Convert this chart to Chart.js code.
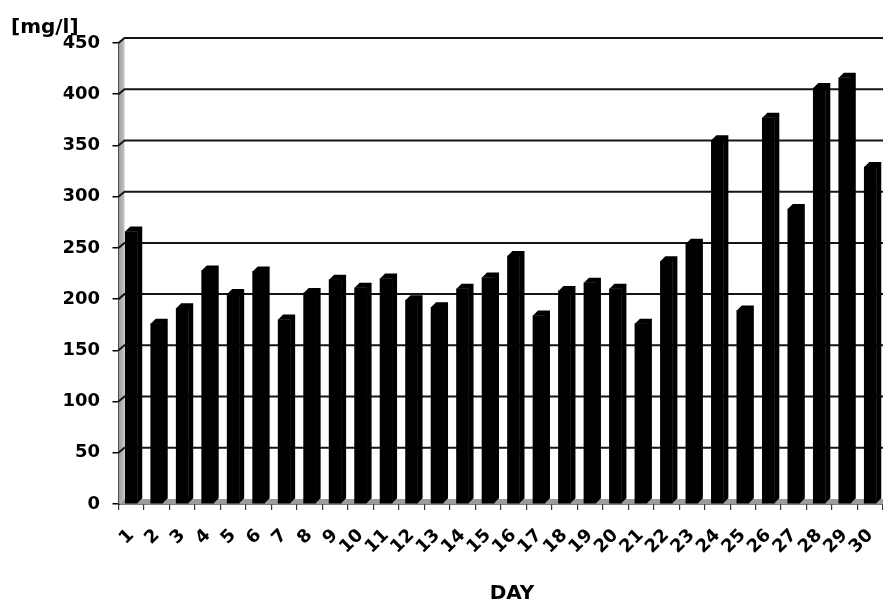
<!DOCTYPE html>
<html>
<head>
<meta charset="utf-8">
<script src="https://cdn.jsdelivr.net/npm/chart.js@4/dist/chart.umd.min.js"></script>
<style>
  html, body { margin: 0; padding: 0; background: #fff; overflow: hidden; }
  canvas { display: block; }
</style>
</head>
<body>
<canvas id="c" width="883" height="603"></canvas>
<script>
const days = ['1','2','3','4','5','6','7','8','9','10','11','12','13','14','15','16','17','18','19','20','21','22','23','24','25','26','27','28','29','30'];
const concentration = [266, 176, 191, 228, 205, 227, 180, 206, 219, 211, 220, 199, 192, 210, 221, 242, 184, 208, 216, 210, 176, 237, 254, 355, 189, 377, 288, 406, 416, 329];
const yUnit = '[mg/l]';
const xTitle = 'DAY';

const FONT = '"DejaVu Sans", "Liberation Sans", Arial, sans-serif';

const depthPlugin = {
  id: 'depth3d',
  beforeDatasetsDraw(chart) {
    const ctx = chart.ctx, a = chart.chartArea, ys = chart.scales.y;
    const wx = 6, wy = 5;
    ctx.save();
    // left wall
    const g = ctx.createLinearGradient(a.left, 0, a.left + wx, 0);
    g.addColorStop(0, '#9a9a9a');
    g.addColorStop(1, '#c4c4c4');
    ctx.fillStyle = g;
    ctx.beginPath();
    ctx.moveTo(a.left, a.top);
    ctx.lineTo(a.left + wx, a.top - wy);
    ctx.lineTo(a.left + wx, a.bottom - wy);
    ctx.lineTo(a.left, a.bottom);
    ctx.closePath();
    ctx.fill();
    // floor
    ctx.fillStyle = '#9c9c9c';
    ctx.beginPath();
    ctx.moveTo(a.left, a.bottom);
    ctx.lineTo(a.left + wx, a.bottom - wy);
    ctx.lineTo(a.right, a.bottom - wy);
    ctx.lineTo(a.right, a.bottom);
    ctx.closePath();
    ctx.fill();
    // back-wall gridlines
    ctx.strokeStyle = '#151515';
    ctx.lineWidth = 2;
    ys.ticks.forEach(t => {
      if (t.value === 0) return;
      const py = ys.getPixelForValue(t.value);
      ctx.beginPath();
      ctx.moveTo(a.left, py);
      ctx.lineTo(a.left + wx, py - wy);
      ctx.lineTo(a.right, py - wy);
      ctx.stroke();
    });
    // bar depth (top + side faces)
    const dx = 5, dy = 5;
    ctx.fillStyle = '#000';
    chart.getDatasetMeta(0).data.forEach(bar => {
      const p = bar.getProps(['x', 'y', 'base', 'width'], true);
      const xl = p.x - p.width / 2, xr = p.x + p.width / 2;
      ctx.beginPath();
      ctx.moveTo(xl, p.y);
      ctx.lineTo(xl + dx, p.y - dy);
      ctx.lineTo(xr + dx, p.y - dy);
      ctx.lineTo(xr + dx, p.base - dy);
      ctx.lineTo(xr, p.base);
      ctx.lineTo(xr, p.y);
      ctx.closePath();
      ctx.fill();
    });
    ctx.restore();
  },
  afterDraw(chart) {
    const ctx = chart.ctx;
    ctx.save();
    ctx.fillStyle = '#000';
    ctx.font = 'bold 20px ' + FONT;
    ctx.textAlign = 'left';
    ctx.textBaseline = 'alphabetic';
    ctx.fillText(yUnit, 11, 33);
    ctx.textAlign = 'center';
    ctx.fillText(xTitle, 512, 599);
    ctx.restore();
  }
};

new Chart(document.getElementById('c'), {
  type: 'bar',
  data: {
    labels: days,
    datasets: [{
      data: concentration,
      backgroundColor: '#000',
      borderWidth: 0,
      barThickness: 12
    }]
  },
  options: {
    responsive: false,
    animation: false,
    events: [],
    layout: { padding: { left: 63.5, right: -3, top: 43, bottom: 0 } },
    plugins: { legend: { display: false }, tooltip: { enabled: false }, title: { display: false } },
    scales: {
      x: {
        type: 'category',
        afterFit(s) { s.height = 99; s.paddingLeft = 0; s.paddingRight = 0; },
        grid: { display: true, offset: true, drawOnChartArea: false, drawTicks: true, tickLength: 6, color: '#333', lineWidth: 1.2 },
        border: { display: true, color: '#000', width: 1.5 },
        ticks: {
          autoSkip: false, maxRotation: 45, minRotation: 45, padding: 15,
          color: '#000', font: { family: FONT, size: 18, weight: 'bold' }
        }
      },
      y: {
        min: 0, max: 450,
        afterFit(s) { s.width = 55; s.paddingTop = 0; s.paddingBottom = 0; },
        grid: { display: true, drawOnChartArea: false, drawTicks: true, tickLength: 6, color: '#000', lineWidth: 1.5 },
        border: { display: true, color: '#000', width: 2 },
        ticks: {
          stepSize: 50, padding: 12.5,
          color: '#000', font: { family: FONT, size: 18, weight: 'bold' }
        }
      }
    }
  },
  plugins: [depthPlugin]
});
</script>
</body>
</html>
